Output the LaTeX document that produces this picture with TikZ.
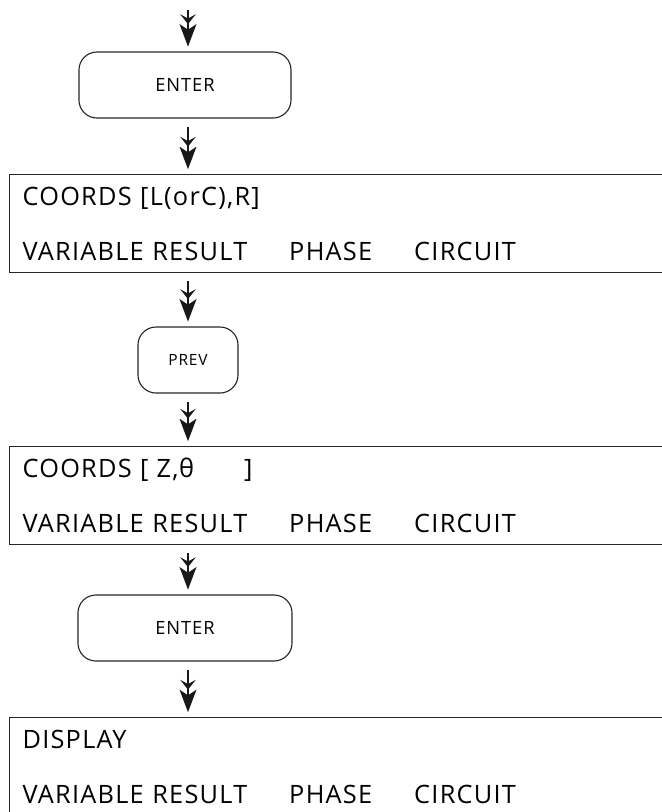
\documentclass[tikz,border=0pt]{standalone}
\usepackage{fontspec}
\setmainfont{Open Sans}[LetterSpace=5]
\usetikzlibrary{arrows.meta,positioning}

\begin{document}
\begin{tikzpicture}[
    x=0.025cm, y=-0.025cm,
    key/.style={rectangle, draw=black!85, rounded corners=0.45cm, line width=0.8pt, minimum height=1.65cm, font=\fontsize{13}{15}\selectfont},
    panel/.style={rectangle, draw=black!85, line width=0.8pt, anchor=north west, minimum height=2.45cm, text width=17cm, inner xsep=0.325cm, align=left, font=\fontsize{18}{22}\selectfont},
    flow/.style={-{Stealth[length=7pt,width=11pt,inset=3pt] Stealth[length=16pt,width=12pt,inset=4pt]}, line width=1.4pt, draw=black!90, shorten <=0.2cm, shorten >=0.12cm}
]
\useasboundingbox (0,0) rectangle (662,812);
\clip (0,0) rectangle (662,812);

\coordinate (top) at (188,2);
\node[key, minimum width=5.3cm] (enter1) at (185,85) {ENTER};
\node[panel] (coords1) at (9,174) {COORDS [L(orC),R]\\[17pt]VARIABLE RESULT\hspace{1.05cm}PHASE\hspace{1.05cm}CIRCUIT};
\node[key, minimum width=2.5cm, font=\fontsize{11}{13}\selectfont] (prev) at (188,360) {PREV};
\node[panel] (coords2) at (9,446) {COORDS [\hspace{0.2cm}Z,θ\hspace{1.25cm}]\\[17pt]VARIABLE RESULT\hspace{1.05cm}PHASE\hspace{1.05cm}CIRCUIT};
\node[key, minimum width=5.35cm] (enter2) at (185,628) {ENTER};
\node[panel] (display) at (9,717) {DISPLAY\\[17pt]VARIABLE RESULT\hspace{1.05cm}PHASE\hspace{1.05cm}CIRCUIT};

\draw[flow] (top) -- (enter1.north -| top);
\draw[flow] (enter1.south -| top) -- (coords1.north -| top);
\draw[flow] (coords1.south -| top) -- (prev.north -| top);
\draw[flow] (prev.south -| top) -- (coords2.north -| top);
\draw[flow] (coords2.south -| top) -- (enter2.north -| top);
\draw[flow] (enter2.south -| top) -- (display.north -| top);

\end{tikzpicture}
\end{document}
